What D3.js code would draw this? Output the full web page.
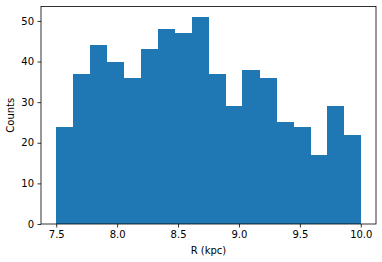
<!DOCTYPE html>
<html>
<head>
<meta charset="utf-8">
<script src="https://cdn.jsdelivr.net/npm/d3@7"></script>
<style>
  body { margin: 0; background: #fff; }
  text { font-family: "DejaVu Sans", sans-serif; }
</style>
</head>
<body>
<div id="hist"></div>
<script>
// histogram data: counts per bin, bins span 7.5 .. 10.0
var binStart = 7.5;
var binEnd = 10.0;
var counts = [24, 37, 44, 40, 36, 43, 48, 47, 51, 37, 29, 38, 36, 25, 24, 17, 29, 22];
var xTicks = [7.5, 8.0, 8.5, 9.0, 9.5, 10.0];
var yTicks = [0, 10, 20, 30, 40, 50];

var svgWidth = 382;
var svgHeight = 262;

var margin = {
    top: 6.5,
    right: 6,
    left: 41,
    bottom: 38
};

var width = svgWidth - margin.left - margin.right;
var height = svgHeight - margin.top - margin.bottom;

var svg = d3.select("#hist").append("svg").attr("width", svgWidth).attr("height", svgHeight);
var chartGroup = svg.append("g")
    .attr("transform", `translate(${margin.left}, ${margin.top})`);

// matplotlib style 5% margins on x, 5% headroom on y
var xPad = (binEnd - binStart) * 0.05;
var xScale = d3.scaleLinear()
    .domain([binStart - xPad, binEnd + xPad])
    .range([0, width]);

var yMax = d3.max(counts) * 1.05;
var yScale = d3.scaleLinear()
    .domain([0, yMax])
    .range([height, 0]);

var binWidth = (binEnd - binStart) / counts.length;
var bins = counts.map((c, i) => ({ x0: binStart + i * binWidth, x1: binStart + (i + 1) * binWidth, count: c }));

// overlap neighbours slightly so no seams show, but keep the last edge at 10.0
chartGroup.selectAll("rect.bar")
    .data(bins)
    .enter()
    .append("rect")
    .attr("class", "bar")
    .attr("x", d => xScale(d.x0))
    .attr("width", (d, i) => xScale(d.x1) - xScale(d.x0) + (i < bins.length - 1 ? 0.5 : 0))
    .attr("y", d => yScale(d.count))
    .attr("height", d => yScale(0) - yScale(d.count))
    .attr("fill", "#1f77b4")
    .attr("shape-rendering", "crispEdges");

// axes
var bottomAxis = d3.axisBottom(xScale).tickValues(xTicks).tickFormat(d3.format(".1f")).tickSize(3.5).tickPadding(3.5);
var leftAxis = d3.axisLeft(yScale).tickValues(yTicks).tickSize(3.5).tickPadding(3.5);

var xAxis = chartGroup.append("g")
    .attr("transform", `translate(0, ${height})`)
    .call(bottomAxis);
var yAxis = chartGroup.append("g")
    .call(leftAxis);

[xAxis, yAxis].forEach(function(ax) {
    ax.select(".domain").remove();
    ax.selectAll("line").attr("stroke", "#000").attr("stroke-width", 0.8);
    ax.selectAll("text").attr("font-size", 10).attr("fill", "#000")
        .style("font-family", "'DejaVu Sans', sans-serif");
});

// spines
chartGroup.append("rect")
    .attr("x", 0)
    .attr("y", 0)
    .attr("width", width)
    .attr("height", height)
    .attr("fill", "none")
    .attr("stroke", "#000")
    .attr("stroke-width", 0.8);

// labels
chartGroup.append("text")
    .attr("x", width / 2)
    .attr("y", height + 30)
    .attr("text-anchor", "middle")
    .attr("font-size", 10)
    .text("R (kpc)");

chartGroup.append("text")
    .attr("transform", `translate(-27, ${height / 2}) rotate(-90)`)
    .attr("text-anchor", "middle")
    .attr("font-size", 10)
    .text("Counts");
</script>
</body>
</html>
